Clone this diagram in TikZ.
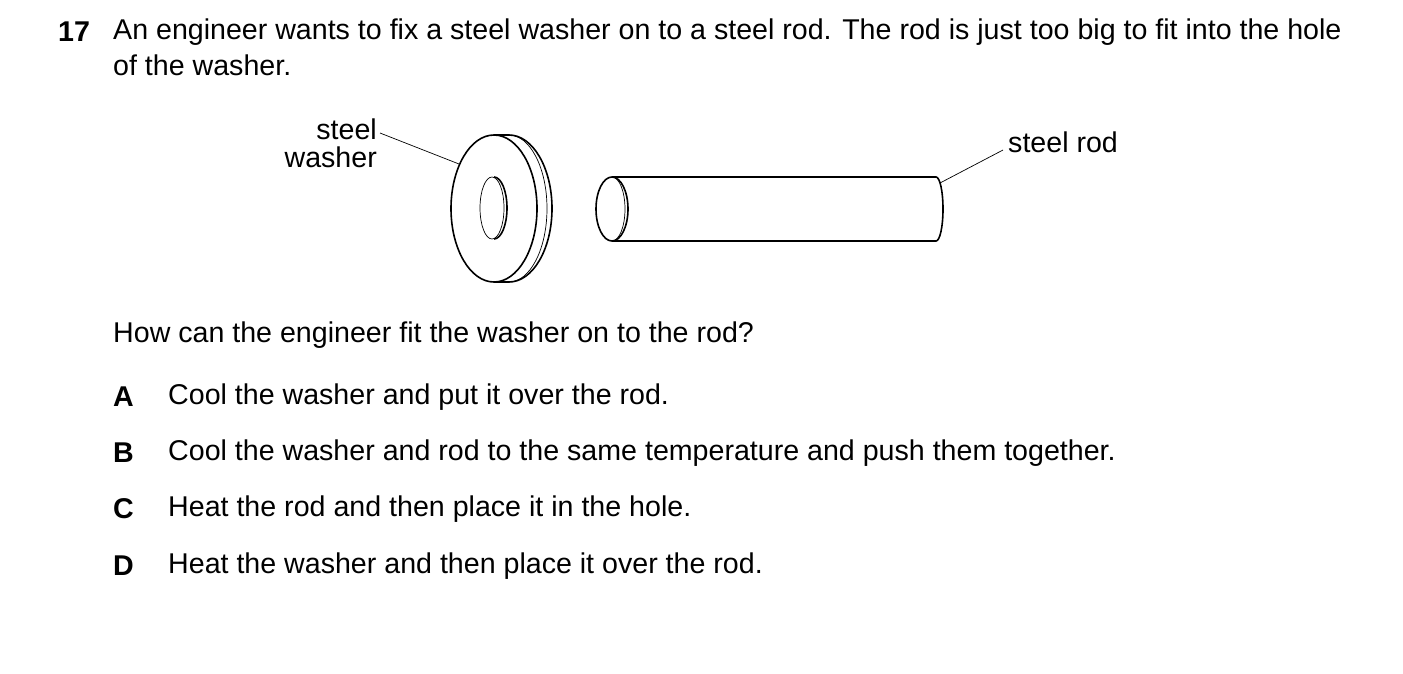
\documentclass[tikz,border=0pt]{standalone}
\usepackage{fontspec}
\setmainfont{Liberation Sans}
\begin{document}
\begin{tikzpicture}[x=1pt,y=-1pt,
  txt/.style={anchor=west,inner sep=0pt,font=\fontsize{28.6}{28}\selectfont},
  lbl/.style={inner sep=0pt,font=\fontsize{28.6}{28}\selectfont},
  thick line/.style={line width=1.6pt},
  thin line/.style={line width=0.7pt}]
\useasboundingbox (0,0) rectangle (1403,673);
\node[txt] (num) at (58,32) {\textbf{17}};
\node[txt] (q1) at (113,32) {An engineer wants to fix a steel washer on to a steel rod. The rod is just too big to fit into the hole};
\node[txt] (q2) at (113,65) {of the washer.};
% washer
\draw[thick line] (494,135) -- (509,135) arc[start angle=-90,end angle=90,x radius=43,y radius=73.5] -- (494,282);
\draw[thin line] (509,135) arc[start angle=-90,end angle=90,x radius=38,y radius=73.5];
\draw[thick line, fill=white] (494,208.5) ellipse[x radius=43,y radius=73.5];
\draw[thin line] (492,208) ellipse[x radius=12,y radius=31];
\draw[thick line] (494,177) arc[start angle=-90,end angle=90,x radius=13,y radius=31];
% rod
\draw[thick line] (612,177) -- (936,177) arc[start angle=-90,end angle=90,x radius=7,y radius=32] -- (612,241);
\draw[thick line] (612,209) ellipse[x radius=16,y radius=32];
\draw[thin line] (612,177) arc[start angle=-90,end angle=90,x radius=13,y radius=32];
% labels
\node[lbl,align=right,anchor=east] (wl) at (377,143) {steel\\washer};
\coordinate (wp) at (459,164);
\draw[thin line] (380,133) -- (wp);
\node[lbl,anchor=west] (rl) at (1008,142) {steel rod};
\coordinate (rp) at (940,183);
\draw[thin line] (1003,150) -- (rp);
\node[txt] (hq) at (113,335) {How can the engineer fit the washer on to the rod?};
\foreach \l/\t/\y in {A/Cool the washer and put it over the rod./397,
  B/Cool the washer and rod to the same temperature and push them together./453,
  C/Heat the rod and then place it in the hole./509,
  D/Heat the washer and then place it over the rod./566}{
  \node[txt] (L\l) at (113,\y) {\textbf{\l}};
  \node[txt] (T\l) at (168,\y) {\t};
}
\end{tikzpicture}
\end{document}
